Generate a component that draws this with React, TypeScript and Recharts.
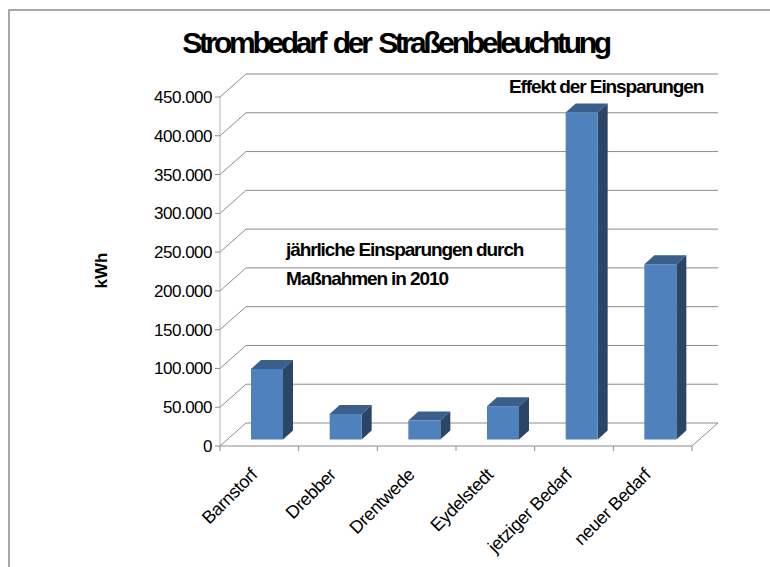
import React from "react";
import { BarChart, Bar, XAxis, YAxis, CartesianGrid } from "recharts";

const categories = ["Barnstorf", "Drebber", "Drentwede", "Eydelstedt", "jetziger Bedarf", "neuer Bedarf"];
const values = [91000, 33000, 24500, 43000, 421500, 226000];
const yTicks = [0, 50000, 100000, 150000, 200000, 250000, 300000, 350000, 400000, 450000];
const title = "Strombedarf der Straßenbeleuchtung";
const note1 = "Effekt der Einsparungen";
const note2 = ["jährliche Einsparungen durch", "Maßnahmen in 2010"];
const yTitle = "kWh";

const data = categories.map((name, i) => ({ name, value: values[i] }));

const FONT = "'Liberation Sans', Arial, sans-serif";
const WIDTH = 770, HEIGHT = 567;
const LEFT = 220, RIGHT = 692, TOP = 97, BOTTOM = 446;
const DX = 26, DY = 23;
const BAND = (RIGHT - LEFT) / categories.length;

const Bar3D = (props: any) => {
  const { x, y, width, height } = props;
  const fx = x + 8, fy = y - 6.5;
  const dx = 10, dy = 9;
  return (
    <g>
      <polygon points={`${fx},${fy} ${fx + dx},${fy - dy} ${fx + width + dx},${fy - dy} ${fx + width},${fy}`} fill="#3a5f8b" />
      <polygon points={`${fx + width},${fy} ${fx + width + dx},${fy - dy} ${fx + width + dx},${fy + height - dy} ${fx + width},${fy + height}`} fill="#2a4565" />
      <rect x={fx} y={fy} width={width} height={height} fill="#4f81bd" />
    </g>
  );
};

const gridLine = (p: any) => {
  const y = p.y1;
  return (
    <g key={p.key}>
      <line x1={LEFT} y1={y} x2={LEFT + DX} y2={y - DY} stroke="#8c8c8c" strokeWidth={1} />
      <line x1={LEFT + DX} y1={y - DY} x2={RIGHT + DX} y2={y - DY} stroke="#8c8c8c" strokeWidth={1} />
      {y > BOTTOM - 1 ? <line x1={RIGHT} y1={y} x2={RIGHT + DX} y2={y - DY} stroke="#8c8c8c" strokeWidth={1} /> : null}
    </g>
  );
};

const XTick = (props: any) => {
  const { x, payload, index } = props;
  const left = x - BAND / 2;
  const ty = BOTTOM;
  return (
    <g>
      <line x1={left} y1={ty} x2={left} y2={ty + 5} stroke="#8c8c8c" />
      {index === categories.length - 1 ? <line x1={x + BAND / 2} y1={ty} x2={x + BAND / 2} y2={ty + 5} stroke="#8c8c8c" /> : null}
      <text x={x - 1} y={ty + 30} textAnchor="end" fontSize={18} fontFamily={FONT} fill="#000" letterSpacing={-0.4}
        transform={`rotate(-45 ${x - 1} ${ty + 30})`}>{payload.value}</text>
    </g>
  );
};

export default function App() {
  return (
    <div style={{ position: "absolute", left: 0, top: 0, width: WIDTH, height: HEIGHT, background: "#fff" }}>
      <BarChart width={WIDTH} height={HEIGHT} data={data}
        margin={{ top: TOP, left: 0, right: WIDTH - RIGHT, bottom: 0 }}>
        <rect x={9} y={10} width={800} height={600} fill="none" stroke="#8c8c8c" strokeWidth={1.5} />
        <CartesianGrid vertical={false} horizontal={gridLine} />
        <XAxis dataKey="name" interval={0} axisLine={{ stroke: "#8c8c8c" }} tickLine={false} tick={XTick} height={HEIGHT - BOTTOM} />
        <YAxis width={LEFT} domain={[0, 450000]} ticks={yTicks} axisLine={{ stroke: "#b3b3b3" }} tickLine={{ stroke: "#8c8c8c" }} tickSize={5}
          tickFormatter={(v: number) => v.toLocaleString("de-DE")}
          tick={{ fontSize: 17, fontFamily: FONT, fill: "#000", letterSpacing: -0.5 }} tickMargin={3} />
        <Bar dataKey="value" barSize={32} shape={Bar3D} isAnimationActive={false} />
        <text x={395.5} y={53} textAnchor="middle" fontSize={30} fontWeight="bold" fontFamily={FONT} letterSpacing={-3.3} wordSpacing={3.5} fill="#000">{title}</text>
        <text x={509} y={93} fontSize={19} fontWeight="bold" fontFamily={FONT} letterSpacing={-1.1} fill="#000">{note1}</text>
        <text x={286} y={256} fontSize={19} fontWeight="bold" fontFamily={FONT} letterSpacing={-1.1} fill="#000">{note2[0]}</text>
        <text x={286} y={285} fontSize={19} fontWeight="bold" fontFamily={FONT} letterSpacing={-1.1} fill="#000">{note2[1]}</text>
        <text x={107} y={270.5} textAnchor="middle" fontSize={17} fontWeight="bold" fontFamily={FONT} fill="#000" transform="rotate(-90 107 270.5)">{yTitle}</text>
      </BarChart>
    </div>
  );
}
